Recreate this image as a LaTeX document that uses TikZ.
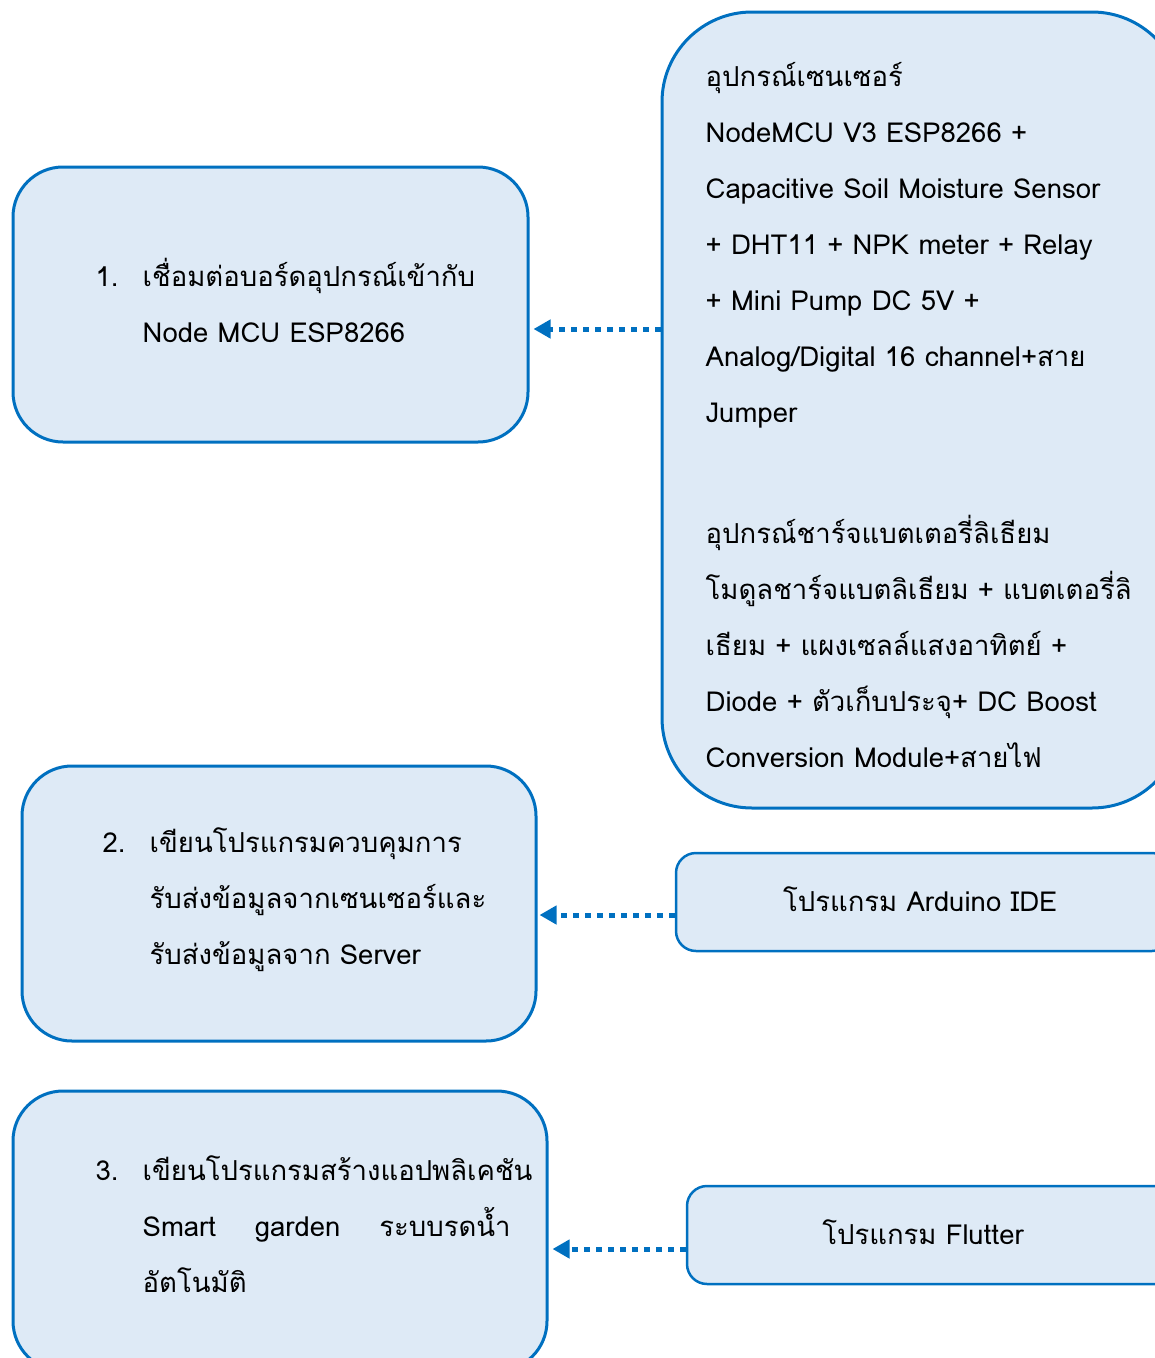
\documentclass[tikz,border=0pt]{standalone}
\usepackage{fontspec}
\newfontfamily\thaifont[Script=Thai]{Loma}
\usepackage{xcolor}
\usepackage{tikz}
\usetikzlibrary{arrows.meta,calc,positioning}
\definecolor{boxblue}{RGB}{0,112,192}
\definecolor{boxfill}{RGB}{222,234,246}
\tikzset{
  stepbox/.style={draw=boxblue, fill=boxfill, line width=3pt, rounded corners=50pt},
  toolbox/.style={draw=boxblue, fill=boxfill, line width=2.5pt, rounded corners=20pt},
  txt/.style={font=\thaifont\fontsize{27.5}{56}\selectfont, align=left, inner sep=0pt},
  link/.style={-{Triangle[length=17pt,width=18pt]}, draw=boxblue, line width=5pt, dash pattern=on 6pt off 6pt},
}

\begin{document}
\begin{tikzpicture}[x=1pt, y=-1pt]
  \useasboundingbox (0,0) rectangle (1155,1358);
  \clip (0,0) rectangle (1155,1358);
  \node[stepbox, minimum width=515pt, minimum height=275pt] (s1) at (270.5,304.5) {};
  \node[stepbox, minimum width=514pt, minimum height=275pt] (s2) at (279,903.5) {};
  \node[stepbox, minimum width=534pt, minimum height=280pt] (s3) at (280,1231) {};
  \node[stepbox, rounded corners=90pt, minimum width=520pt, minimum height=796pt] (hw) at (922,410) {};
  \node[toolbox, minimum width=496pt, minimum height=98pt] (ide) at (924,902) {};
  \node[toolbox, minimum width=490pt, minimum height=98pt] (flt) at (932,1235) {};
  \node[txt, anchor=west] (t1) at ([xshift=84pt,yshift=4pt]s1.west)
    {\makebox[47pt][l]{1.}เชื่อมต่อบอร์ดอุปกรณ์เข้ากับ\\
     \hspace*{47pt}Node MCU ESP8266};
  \node[txt, anchor=west] (t2) at ([xshift=82pt,yshift=3.5pt]s2.west)
    {\makebox[47pt][l]{2.}เขียนโปรแกรมควบคุมการ\\
     \hspace*{47pt}รับส่งข้อมูลจากเซนเซอร์และ\\
     \hspace*{47pt}รับส่งข้อมูลจาก Server};
  \node[txt, anchor=west] (t3) at ([xshift=84pt,yshift=7pt]s3.west)
    {\makebox[47pt][l]{3.}เขียนโปรแกรมสร้างแอปพลิเคชัน\\
     \hspace*{47pt}\makebox[368pt][s]{Smart garden ระบบรดน้ำ}\\
     \hspace*{47pt}อัตโนมัติ};
  \node[txt, anchor=west] (thw) at ([xshift=45pt,yshift=-5.5pt]hw.west)
    {อุปกรณ์เซนเซอร์\\
     NodeMCU V3 ESP8266 +\\
     Capacitive Soil Moisture Sensor\\
     + DHT11 + NPK meter + Relay\\
     + Mini Pump DC 5V +\\
     Analog/Digital 16 channel+สาย\\
     Jumper\\[65pt]
     อุปกรณ์ชาร์จแบตเตอรี่ลิเธียม\\
     โมดูลชาร์จแบตลิเธียม + แบตเตอรี่ลิ\\
     เธียม + แผงเซลล์แสงอาทิตย์ +\\
     Diode + ตัวเก็บประจุ+ DC Boost\\
     Conversion Module+สายไฟ};
  \node[txt] (tide) at ([xshift=-4pt,yshift=3pt]ide.center) {โปรแกรม Arduino IDE};
  \node[txt] (tflt) at ([xshift=-9pt,yshift=3pt]flt.center) {โปรแกรม Flutter};
  \coordinate (a1) at (0,329);
  \coordinate (a2) at (0,915);
  \coordinate (a3) at (0,1249);
  \draw[link, shorten >=4pt] (hw.west |- a1) -- (s1.east |- a1);
  \draw[link, shorten >=2pt] (ide.west |- a2) -- (s2.east |- a2);
  \draw[link, shorten >=4pt] (flt.west |- a3) -- (s3.east |- a3);
\end{tikzpicture}
\end{document}
